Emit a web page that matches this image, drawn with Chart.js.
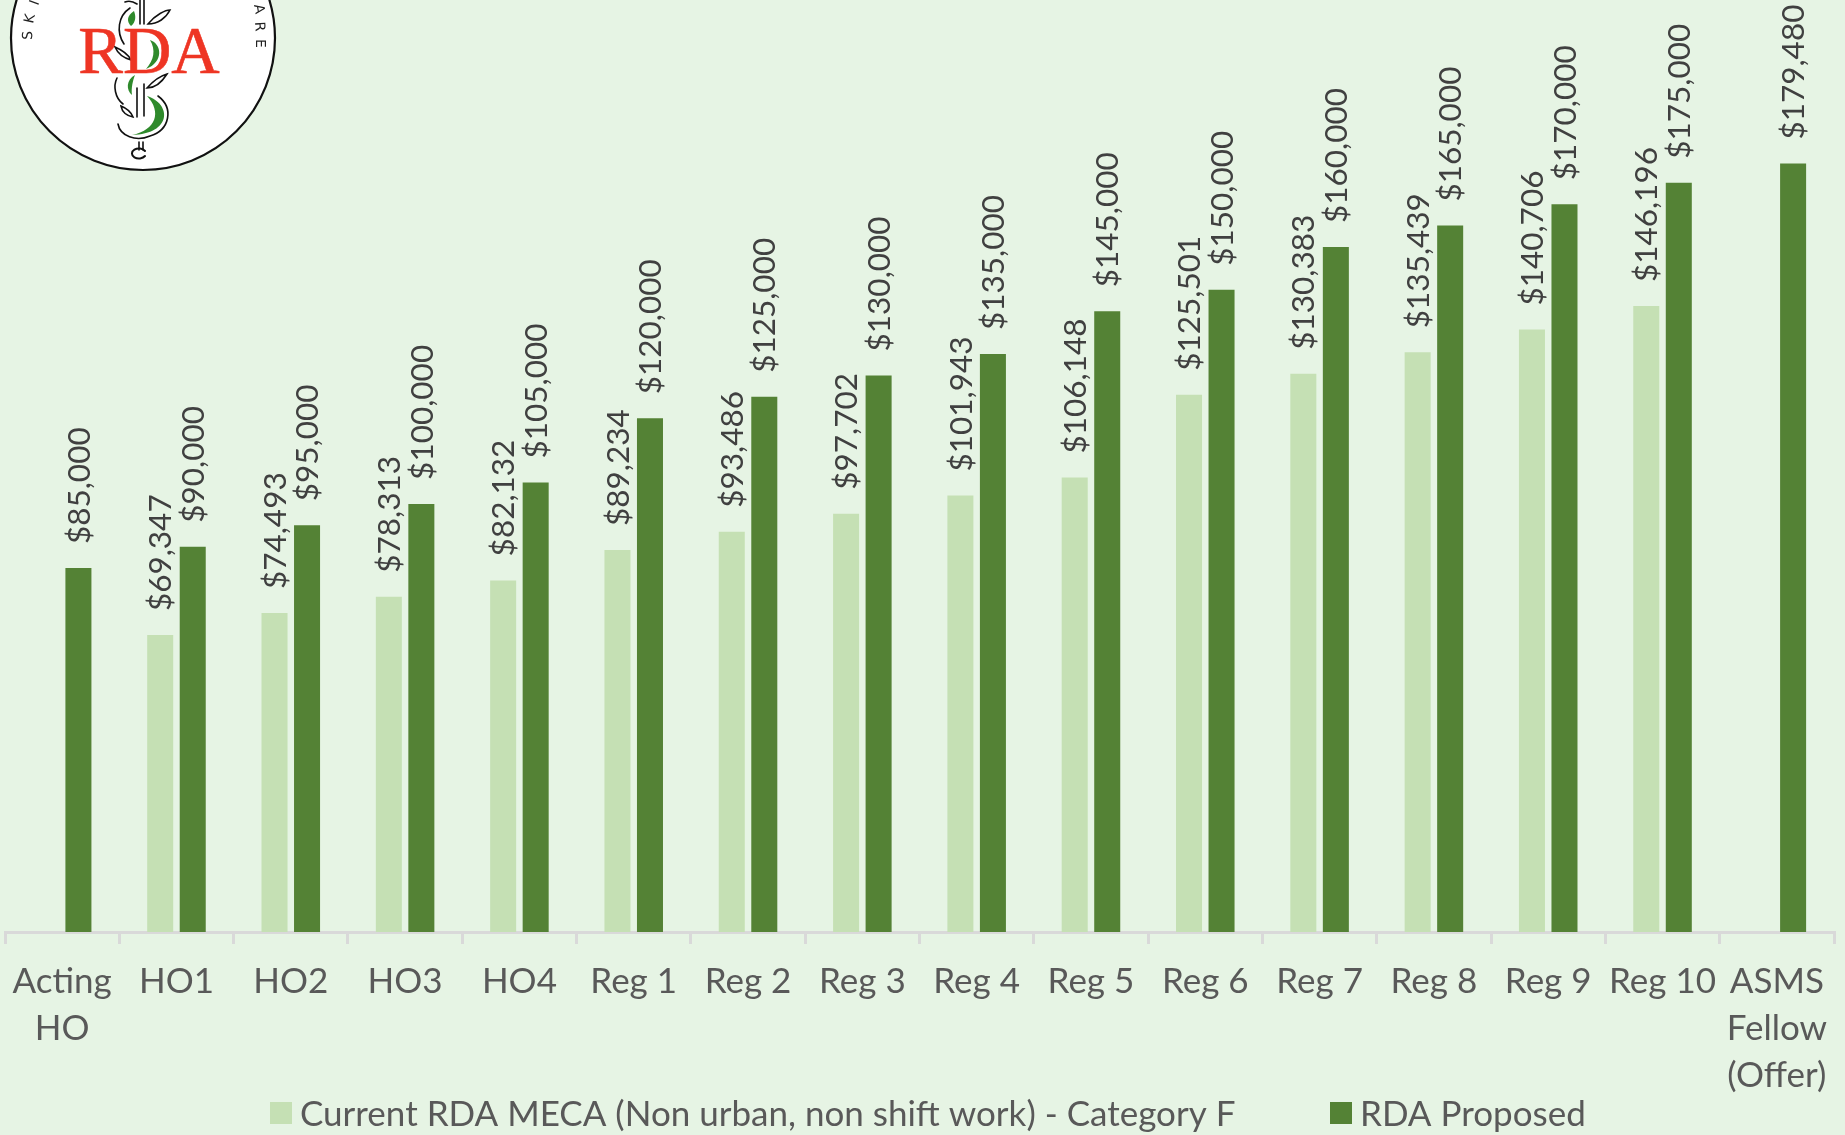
<!DOCTYPE html>
<html>
<head>
<meta charset="utf-8">
<title>RDA salary comparison</title>
<script src="https://cdn.jsdelivr.net/npm/chart.js@4"></script>
<style>
  html, body { margin: 0; padding: 0; background: #e6f4e4; overflow: hidden; }
  #wrap { position: relative; width: 1845px; height: 1135px; }
  #logo { position: absolute; left: 0; top: 0; }
</style>
</head>
<body>
<div id="wrap">
  <canvas id="chart" width="1845" height="1135"></canvas>
  <svg id="logo" width="290" height="180" viewBox="0 0 290 180">
    <circle cx="143" cy="38" r="132" fill="#fff" stroke="#111" stroke-width="2.2"/>
    <g font-family="'DejaVu Sans', sans-serif" font-size="14" fill="#222">
      <text transform="translate(32,40) rotate(-88)">S</text>
      <text transform="translate(33,24) rotate(-78)">K</text>
      <text transform="translate(38,6) rotate(-70)">I</text>
      <text transform="translate(254,5) rotate(80)">A</text>
      <text transform="translate(255,22) rotate(86)">R</text>
      <text transform="translate(256,39) rotate(90)">E</text>
    </g>
    <g fill="none" stroke="#111" stroke-width="1.6" stroke-linecap="round">
      <path d="M140 0V24M144 0V24"/>
      <path d="M137 88V117M144 84V116"/>
      <path d="M139 142V150M143 142V150"/>
      <path d="M145 156a7 5 0 1 1 0-5" stroke-width="2"/>
      <path d="M130 8C118 16 116 32 124 44"/>
      <path d="M117 78C113 86 115 98 123 104"/>
      <path d="M118 124C120 136 136 142 150 136C170 130 174 108 158 96"/>
      <path d="M148 24C156 14 166 10 170 10C166 18 158 24 148 24Z"/>
      <path d="M147 88C154 80 160 76 167 74C162 82 156 88 147 88Z"/>
      <path d="M115 47C122 50 128 54 131 60C124 58 118 54 115 47Z"/>
      <path d="M121 106C126 108 131 112 133 117C127 116 122 112 121 106Z"/>
      <path d="M125 2C130 0 134 2 137 4"/>
    </g>
    <g fill="#2f8a2c">
      <path d="M134 11C126 16 127 22 131 26C136 22 136 16 134 11Z"/>
      <path d="M150 40C162 44 164 62 146 69C154 60 156 50 150 40Z"/>
      <path d="M135 75C126 80 126 90 132 95C131 88 133 80 135 75Z"/>
      <path d="M147 96C172 104 172 134 132 135C156 130 162 112 147 96Z"/>
    </g>
    <text x="149" y="73" text-anchor="middle" font-family="'Liberation Serif', serif" font-size="67" fill="#ee3524" stroke="#ee3524" stroke-width="0.6">RDA</text>
  </svg>
</div>

<script>
const categories = [
  ['Acting', 'HO'], 'HO1', 'HO2', 'HO3', 'HO4',
  'Reg 1', 'Reg 2', 'Reg 3', 'Reg 4', 'Reg 5',
  'Reg 6', 'Reg 7', 'Reg 8', 'Reg 9', 'Reg 10',
  ['ASMS', 'Fellow', '(Offer)']
];

const currentMeca = [
  null, 69347, 74493, 78313, 82132,
  89234, 93486, 97702, 101943, 106148,
  125501, 130383, 135439, 140706, 146196,
  null
];

const rdaProposed = [
  85000, 90000, 95000, 100000, 105000,
  120000, 125000, 130000, 135000, 145000,
  150000, 160000, 165000, 170000, 175000,
  179480
];

const FONT = "Lato, Carlito, sans-serif";

function money(v) {
  return '$' + v.toLocaleString('en-US');
}

// rotated value labels above each bar
const barLabels = {
  id: 'barLabels',
  afterDatasetsDraw(chart) {
    const ctx = chart.ctx;
    ctx.save();
    ctx.font = `31.5px ${FONT}`;
    ctx.fillStyle = '#404040';
    ctx.textAlign = 'left';
    ctx.textBaseline = 'middle';
    chart.data.datasets.forEach((ds, i) => {
      chart.getDatasetMeta(i).data.forEach((bar, j) => {
        if (ds.data[j] == null) return;
        ctx.save();
        ctx.translate(bar.x + 1, bar.y - 24);
        ctx.rotate(-Math.PI / 2);
        ctx.fillText(money(ds.data[j]), 0, 0);
        ctx.restore();
      });
    });
    ctx.restore();
  }
};

// the built-in legend keeps too wide a gap after the box, so draw it here
const legendX = [270, 1330];
const bottomLegend = {
  id: 'bottomLegend',
  afterDraw(chart) {
    const ctx = chart.ctx;
    ctx.save();
    ctx.font = `35px ${FONT}`;
    ctx.textAlign = 'left';
    ctx.textBaseline = 'middle';
    chart.data.datasets.forEach((ds, i) => {
      ctx.fillStyle = ds.backgroundColor;
      ctx.fillRect(legendX[i], 1102, 22, 22);
      ctx.fillStyle = '#595959';
      ctx.fillText(ds.label, legendX[i] + 30, 1115);
    });
    ctx.restore();
  }
};

new Chart(document.getElementById('chart'), {
  type: 'bar',
  data: {
    labels: categories,
    datasets: [
      {
        label: 'Current RDA MECA (Non urban, non shift work) - Category F',
        data: currentMeca,
        backgroundColor: '#c5e0b4'
      },
      {
        label: 'RDA Proposed',
        data: rdaProposed,
        backgroundColor: '#548235'
      }
    ]
  },
  options: {
    responsive: false,
    animation: false,
    categoryPercentage: 0.569,
    barPercentage: 0.8,
    layout: { padding: { left: 5, right: 11, top: 0, bottom: 0 } },
    plugins: {
      tooltip: { enabled: false },
      legend: { display: false }
    },
    scales: {
      y: { display: false, min: 0, max: 217700 },
      x: {
        afterFit(scale) {
          scale.height = 203;
          // labels may overhang the ends, keep the axis where the reference has it
          scale.paddingLeft = 0;
          scale.paddingRight = 0;
        },
        border: { color: '#d9d9d9', width: 3 },
        grid: { drawOnChartArea: false, color: '#d9d9d9', lineWidth: 3, tickLength: 12 },
        ticks: {
          color: '#595959',
          font: { family: FONT, size: 35, lineHeight: 1.343 },
          padding: 14,
          maxRotation: 0,
          autoSkip: false
        }
      }
    }
  },
  plugins: [barLabels, bottomLegend]
});
</script>
</body>
</html>
